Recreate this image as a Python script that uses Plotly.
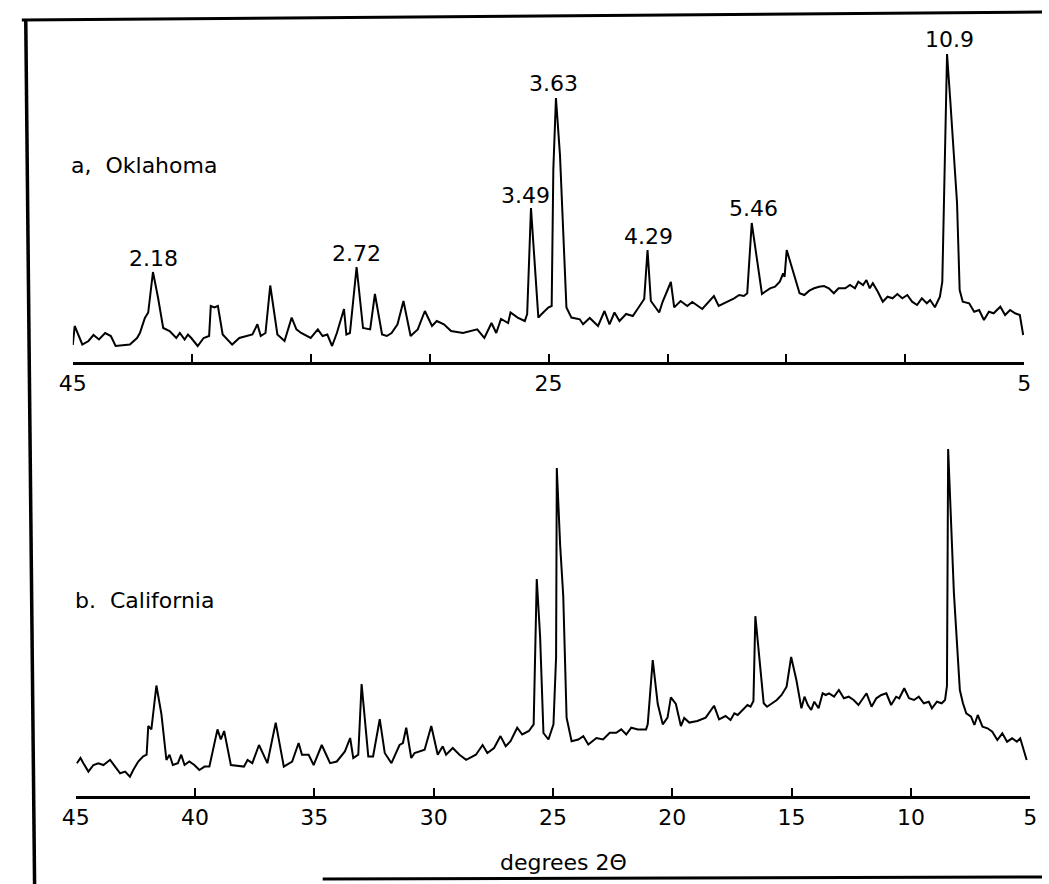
import plotly.graph_objects as go

# ---- data: a. Oklahoma (2-theta degrees, relative intensity) ----
two_theta_a = [45.0, 44.92, 44.6, 44.34, 44.13, 43.9, 43.64, 43.4, 43.2, 42.6, 42.3, 42.18, 41.97, 41.83,
               41.63, 41.42, 41.2, 40.93, 40.65, 40.5, 40.3, 40.16, 40.02, 39.75, 39.5, 39.27, 39.2, 39.05,
               38.9, 38.7, 38.3, 38.0, 37.45, 37.24, 37.1, 36.9, 36.7, 36.4, 36.1, 35.8, 35.6, 35.4, 35.0,
               34.7, 34.5, 34.3, 34.1, 33.9, 33.6, 33.5, 33.35, 33.07, 32.8, 32.5, 32.3, 32.0, 31.8, 31.6,
               31.35, 31.1, 30.8, 30.5, 30.2, 29.9, 29.7, 29.4, 29.1, 28.6, 28.0, 27.7, 27.4, 27.2, 27.0,
               26.7, 26.6, 26.3, 26.0, 25.9, 25.74, 25.43, 25.29, 25.0, 24.87, 24.8, 24.69, 24.52, 24.25,
               24.04, 23.69, 23.55, 23.27, 22.92, 22.65, 22.44, 22.23, 22.02, 21.74, 21.46, 21.26, 20.98,
               20.84, 20.7, 20.35, 20.21, 19.86, 19.72, 19.45, 19.17, 18.96, 18.54, 18.05, 17.85,
               17.2, 16.99, 16.79, 16.65, 16.46, 16.03, 15.9, 15.69, 15.48, 15.28, 15.14, 15.08, 14.99,
               14.73, 14.45, 14.25, 14.04, 13.84, 13.63, 13.42, 13.22, 13.01, 12.81, 12.53, 12.33, 12.12,
               11.98, 11.78, 11.64, 11.5, 11.37, 11.16, 10.95, 10.75, 10.54, 10.34, 10.13, 9.92, 9.72,
               9.51, 9.31, 9.1, 8.96, 8.76, 8.55, 8.45, 8.36, 8.25, 8.11, 7.83, 7.72, 7.59, 7.32, 7.11,
               6.9, 6.7, 6.49, 6.29, 6.01, 5.81, 5.6, 5.39, 5.19, 5.05]
intensity_a = [17, 36, 17.5, 21, 27, 22.5, 29, 26, 16, 17.4, 24, 29, 44, 49.5,
               90, 64.7, 34, 31, 24, 29, 22.5, 27.5, 24, 16, 24, 26, 56, 54.6,
               56, 27.5, 17.4, 24, 27.5, 37.7, 26, 29, 76.5, 27.5, 21, 44.4, 32.6, 29, 24,
               32.6, 26, 27.5, 16, 29, 53, 27.5, 29, 95, 34, 32.6, 68, 27.5, 26, 29,
               37.7, 61, 26, 32.6, 51, 36, 41, 37.7, 31, 29, 32.6, 24, 39, 29, 43,
               39, 49.5, 44.4, 41, 48, 154, 44.4, 48, 54.6, 56, 193, 264, 206.6, 54.6,
               44.4, 42.7, 37.7, 44, 36, 51, 37.7, 49.5, 41, 48, 46, 53, 63,
               112, 61, 49.5, 60, 80, 54.6, 61, 56, 60, 53, 66, 56,
               63.7, 67, 66, 68.7, 139, 68, 70.3, 73.7, 75.3, 80.3, 88.7, 85, 112,
               92, 68.7, 67, 71.3, 73.7, 75.3, 76, 73.7, 68.7, 73.7, 73.7, 77, 73.7,
               80.3, 77, 82, 73.7, 78.7, 70.3, 60.3, 65.3, 63.7, 68, 63.7, 67, 60.3,
               57, 63.7, 58.7, 62, 54.7, 65.3, 80, 193, 308, 260, 159, 72, 60.3, 58.7, 50.3,
               52, 42, 50.3, 48.7, 55.3, 47, 52, 48.7, 47, 27]

# ---- data: b. California ----
two_theta_b = [44.95, 44.8, 44.68, 44.47, 44.26, 44.05, 43.84, 43.56, 43.35, 43.14, 42.93, 42.73, 42.59,
               42.38, 42.17, 42.03, 41.96, 41.83, 41.62, 41.41, 41.2, 41.07, 40.93, 40.72, 40.58, 40.44,
               40.24, 40.03, 39.82, 39.6, 39.4, 39.06, 38.92, 38.78, 38.5, 37.95, 37.8, 37.6, 37.32, 36.97,
               36.62, 36.28, 35.93, 35.66, 35.52, 35.24, 35.03, 34.69, 34.34, 34.06, 33.72, 33.5, 33.37,
               33.16, 33.02, 32.74, 32.54, 32.26, 32.05, 31.77, 31.43, 31.29, 31.15, 30.94, 30.8, 30.38,
               30.1, 29.83, 29.62, 29.48, 29.2, 28.92, 28.64, 28.23, 27.95, 27.75, 27.47, 27.2, 26.98,
               26.78, 26.5, 26.29, 26.01, 25.81, 25.68, 25.54, 25.4, 25.19, 24.98, 24.87, 24.84, 24.7,
               24.57, 24.43, 24.22, 23.94, 23.73, 23.52, 23.18, 22.9, 22.62, 22.35, 22.14, 21.93, 21.72,
               21.44, 21.1, 21.03, 20.82, 20.61, 20.4, 20.2, 20.06, 19.85, 19.64, 19.5, 19.29, 18.95,
               18.6, 18.25, 18.04, 17.77, 17.56, 17.4, 17.26, 17.06, 16.85, 16.72, 16.6, 16.52, 16.4,
               16.24, 16.17, 16.03, 15.83, 15.62, 15.42, 15.28, 15.21, 15.02, 14.8, 14.59, 14.46, 14.32,
               14.18, 14.05, 13.87, 13.7, 13.57, 13.43, 13.22, 13.02, 12.81, 12.61, 12.4, 12.2, 11.99,
               11.86, 11.65, 11.45, 11.24, 11.03, 10.83, 10.62, 10.49, 10.28, 10.08, 9.87, 9.67, 9.46,
               9.25, 9.12, 8.91, 8.71, 8.57, 8.49, 8.44, 8.33, 8.2, 7.95, 7.82, 7.68, 7.48, 7.34, 7.2,
               7.0, 6.79, 6.59, 6.38, 6.17, 5.97, 5.76, 5.56, 5.42, 5.15]
intensity_b = [32.8, 38, 32.8, 24.4, 31, 32.8, 31, 36.2, 29.4, 22.7, 24.4, 19.3, 26,
               34.5, 39.6, 41.3, 70, 66.6, 110.5, 81.8, 36, 41.3, 31, 32.8, 41.3, 31,
               34.5, 31, 26, 29.4, 29.4, 66.6, 56.5, 65, 31, 29.4, 36, 32.8, 51, 32.8,
               73.4, 29.4, 34.5, 53, 41.3, 41.3, 31, 51, 32.8, 34.5, 44.6, 58, 38,
               41.3, 112, 39.6, 39.6, 76.8, 43, 32.8, 51, 53, 68.3, 38, 43, 46.3,
               70, 41.3, 49.7, 41.3, 48, 41.3, 36.2, 41.3, 51, 43, 48, 59.9, 49.7,
               54.8, 68.3, 61.5, 65, 71.7, 217, 159.5, 63, 56.5, 71.7, 139, 328, 250.7,
               200, 78.4, 54.8, 56.5, 59.9, 51.4, 58, 56.5, 63.2, 63.2, 66.6, 61.5, 68.3,
               66.6, 66.6, 71.7, 135.9, 92, 71.7, 78.4, 98.7, 92, 70, 78, 73.4, 75,
               78.4, 90.3, 76.7, 80, 76, 82.7, 81, 86, 91, 89.3, 95, 179.8, 150,
               114, 92.7, 89.3, 92.7, 96, 101, 106, 109.3, 139, 116, 87.7, 99.3, 91,
               86, 94.3, 87.7, 102.7, 101, 102.7, 99.3, 106, 97.7, 99.3, 96, 91, 97.7,
               102.7, 89.3, 97.7, 101, 102.7, 91, 99.3, 97.7, 107.7, 97.7, 96, 99.3, 92.7,
               94.3, 87.7, 94.3, 92.7, 96, 110, 347, 277.8, 203.4, 106, 92.7, 82.7, 79.3, 71, 81,
               69.3, 67.7, 64.3, 56, 62.7, 54.3, 57.7, 54.3, 57.7, 36]

# ---- peak labels (d-spacings) for panel a ----
peak_labels = ["2.18", "2.72", "3.49", "3.63", "4.29", "5.46", "10.9"]
peak_label_x = [41.62, 33.06, 25.97, 24.78, 20.82, 16.38, 8.14]
peak_label_y = [104, 109, 167, 279, 125.5, 154, 322]

tick_vals = [45, 40, 35, 30, 25, 20, 15, 10, 5]
tick_text_a = ["45", "", "", "", "25", "", "", "", "5"]
tick_text_b = ["45", "40", "35", "30", "25", "20", "15", "10", "5"]

W, H = 1049, 884
FONT = "DejaVu Sans"


def px(x):
    return x / W


def py(y):
    return 1 - y / H


fig = go.Figure()
fig.add_trace(go.Scatter(x=two_theta_a, y=intensity_a, mode="lines",
                         line=dict(color="black", width=2), xaxis="x", yaxis="y"))
fig.add_trace(go.Scatter(x=two_theta_b, y=intensity_b, mode="lines",
                         line=dict(color="black", width=2), xaxis="x2", yaxis="y2"))

axis_common = dict(range=[45, 5], showline=True, linecolor="black", linewidth=2.5,
                   ticks="inside", ticklen=8, tickwidth=2, tickcolor="black",
                   tickvals=tick_vals, showgrid=False, zeroline=False,
                   tickfont=dict(family=FONT, size=22, color="black"))

fig.update_layout(
    width=W, height=H, margin=dict(l=0, r=0, t=0, b=0),
    paper_bgcolor="white", plot_bgcolor="white", showlegend=False,
    xaxis=dict(domain=[px(60), px(1031)], anchor="y", ticktext=tick_text_a, **axis_common),
    yaxis=dict(domain=[py(362), py(30)], range=[0, 332], visible=False),
    xaxis2=dict(domain=[px(63), px(1037)], anchor="y2", ticktext=tick_text_b, **axis_common),
    yaxis2=dict(domain=[py(796), py(420)], range=[0, 376], visible=False),
)

annotations = []
for t, x, y in zip(peak_labels, peak_label_x, peak_label_y):
    annotations.append(dict(text=t, x=x, y=y, xref="x", yref="y", showarrow=False,
                            xanchor="center", yanchor="middle",
                            font=dict(family=FONT, size=22, color="black")))
annotations.append(dict(text="a,\u00a0\u00a0Oklahoma", x=px(56), y=py(165), xref="paper", yref="paper",
                        showarrow=False, xanchor="left", yanchor="middle",
                        font=dict(family=FONT, size=22, color="black")))
annotations.append(dict(text="b.\u00a0\u00a0California", x=px(60), y=py(600), xref="paper", yref="paper",
                        showarrow=False, xanchor="left", yanchor="middle",
                        font=dict(family=FONT, size=22, color="black")))
annotations.append(dict(text="degrees 2Θ", x=px(561), y=py(862), xref="paper", yref="paper",
                        showarrow=False, xanchor="center", yanchor="middle",
                        font=dict(family=FONT, size=22, color="black")))
fig.update_layout(annotations=annotations)

# frame of the scanned page
shapes = [
    dict(type="line", xref="paper", yref="paper", x0=px(12), y0=py(20), x1=px(21), y1=py(884),
         line=dict(color="black", width=3.5)),
    dict(type="line", xref="paper", yref="paper", x0=px(8), y0=py(20), x1=px(1049), y1=py(12),
         line=dict(color="black", width=3)),
    dict(type="line", xref="paper", yref="paper", x0=px(315), y0=py(879), x1=px(1049), y1=py(877),
         line=dict(color="black", width=3)),
]
fig.update_layout(shapes=shapes)

fig.write_html("out.html")
